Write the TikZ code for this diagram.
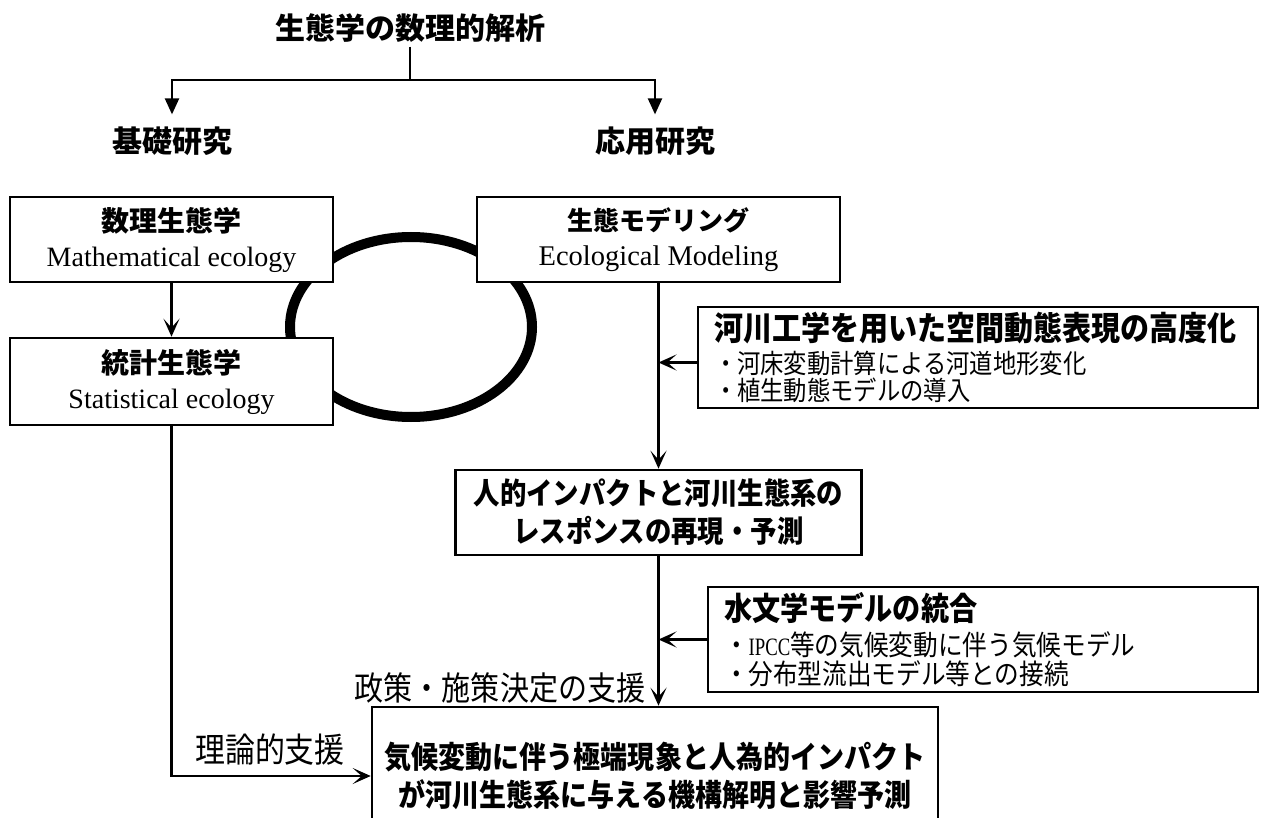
\documentclass[tikz,border=0pt]{standalone}
\usepackage{fontspec}
\setmainfont{Liberation Serif}
\newfontfamily\jp{Noto Sans CJK JP}
\newfontfamily\jpn{Noto Sans CJK JP}[FakeStretch=0.88]
\newfontfamily\sern{Liberation Serif}[FakeStretch=0.75]
\usetikzlibrary{arrows.meta}
\begin{document}
\begin{tikzpicture}[x=1pt,y=-1pt,
  box/.style={draw, line width=2.6pt, fill=white, inner sep=0pt, align=center},
  conn/.style={line width=2.2pt},
  arr/.style={conn, -{Stealth[length=18pt,width=16pt,inset=9pt]}},
  tri/.style={conn, -{Triangle[length=16pt,width=14pt]}},
  head/.style={font=\jp\bfseries\fontsize{30}{30}\selectfont, inner sep=0pt},
  lbl/.style={font=\jpn\fontsize{33}{33}\selectfont, inner sep=0pt}
]
\useasboundingbox (0,0) rectangle (1272,818);
\clip (0,0) rectangle (1272,818);
\fill[white] (0,0) rectangle (1272,818);

% thick ring behind the boxes
\draw[line width=10pt] (411,327) ellipse [x radius=121pt, y radius=90pt];

% top
\node[head] (title) at (410,28) {生態学の数理的解析};
\coordinate (split) at (410,80);
\node[head] (kiso) at (172,141) {基礎研究};
\node[head] (ouyo) at (655,141) {応用研究};

% boxes
\node[box, minimum width=323pt, minimum height=85pt, font=\fontsize{28}{35}\selectfont]
  (suri) at (171.5,239.5) {{\jp\bfseries 数理生態学}\\Mathematical ecology};
\node[box, minimum width=323pt, minimum height=87pt, font=\fontsize{28}{35}\selectfont]
  (tokei) at (171.5,381.5) {{\jp\bfseries 統計生態学}\\Statistical ecology};
\node[box, minimum width=363pt, minimum height=85pt, font=\fontsize{28.5}{35}\selectfont]
  (eco) at (658.5,239.5) {{\jp\bfseries\fontsize{26}{35}\selectfont 生態モデリング}\\Ecological Modeling};

\node[box, minimum width=560pt, minimum height=101pt, text width=528pt, align=left,
  font=\jpn\fontsize{26.5}{27}\selectfont]
  (kasen) at (978,357.5)
  {{\bfseries\fontsize{33}{27}\selectfont 河川工学を用いた空間動態表現の高度化}\\[6pt]
   ・河床変動計算による河道地形変化\\
   ・植生動態モデルの導入};

\node[box, minimum width=406pt, minimum height=85pt, font=\jpn\bfseries\fontsize{30}{38}\selectfont]
  (hito) at (658.5,512.5) {人的インパクトと河川生態系の\\レスポンスの再現・予測};

\node[box, minimum width=550pt, minimum height=105pt, text width=518pt, align=left,
  font=\jpn\fontsize{28}{29}\selectfont]
  (sui) at (983,639.5)
  {{\bfseries\fontsize{32}{29}\selectfont 水文学モデルの統合}\\[6pt]
   ・{\sern\fontsize{25}{29}\selectfont IPCC}等の気候変動に伴う気候モデル\\
   ・分布型流出モデル等との接続};

\node[box, minimum width=566pt, minimum height=138pt, font=\jpn\bfseries\fontsize{30.7}{38}\selectfont]
  (final) at (655,776) {気候変動に伴う極端現象と人為的インパクト\\が河川生態系に与える機構解明と影響予測};

% labels
\node[lbl] (seisaku) at (500,688) {政策・施策決定の支援};
\node[lbl, font=\jpn\fontsize{34}{34}\selectfont] (riron) at (270,750) {理論的支援};

% connectors
\draw[conn] ([yshift=-4pt]title.south) -- (split);
\draw[tri] (split) -| ([yshift=12pt]kiso.north);
\draw[tri] (split) -| ([yshift=12pt]ouyo.north);
\draw[arr] (suri.south) -- (tokei.north);
\draw[arr] (eco.south) -- (eco.south |- hito.north);
\draw[arr] (hito.south) -- (hito.south |- final.north);
\coordinate (k1) at ([yshift=-5pt]kasen.west);
\draw[arr] (k1) -- (k1 -| eco.south);
\draw[arr] (sui.west) -- (sui.west -| eco.south);
\draw[arr] (tokei.south) |- (final.west);
\end{tikzpicture}
\end{document}
